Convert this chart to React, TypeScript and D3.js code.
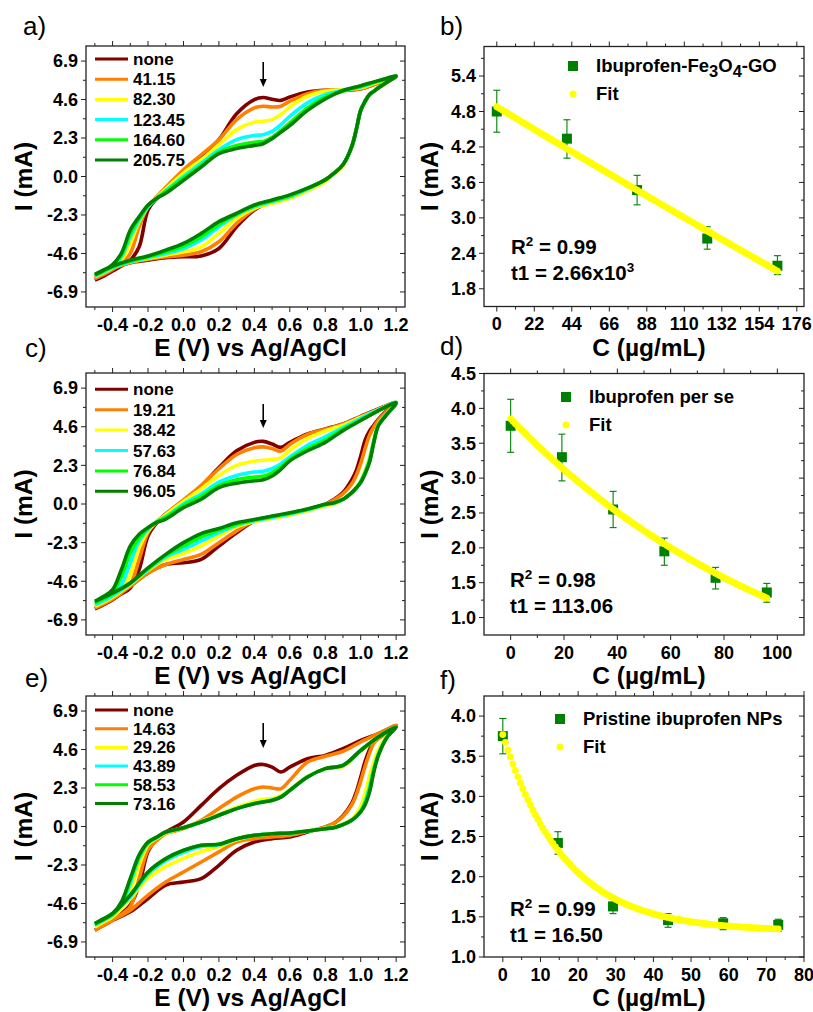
import React from "react";
import * as d3 from "d3";

const FONT = "'Liberation Sans', Arial, Helvetica, sans-serif";

// ---------- CV data (potential grids, V) ----------
const FE = [-0.5, -0.45, -0.4, -0.35, -0.3, -0.25, -0.2, -0.15, -0.1, 0, 0.1, 0.2, 0.3, 0.4, 0.45, 0.5, 0.55, 0.6, 0.7, 0.8, 0.9, 1.0, 1.1, 1.2];
const RE = [1.2, 1.15, 1.1, 1.075, 1.05, 1.025, 1.0, 0.975, 0.95, 0.9, 0.85, 0.8, 0.7, 0.6, 0.5, 0.4, 0.3, 0.2, 0.1, 0, -0.1, -0.2, -0.3, -0.4, -0.5];

const CV_COLORS = ["#800000", "#FF8000", "#FFFF00", "#00FFFF", "#00FF00", "#008000"];

const aLabels = ["none", "41.15", "82.30", "123.45", "164.60", "205.75"];
const aUp = [
  [-6.2, -5.95, -5.65, -5.35, -5.0, -4.2, -2.0, -1.3, -0.8, 0.15, 1.15, 2.2, 3.75, 4.6, 4.72, 4.62, 4.55, 4.75, 5.05, 5.15, 5.15, 5.25, 5.6, 6.0],
  [-6.1, -5.85, -5.55, -5.2, -4.6, -3.0, -1.8, -1.2, -0.65, 0.4, 1.3, 2.2, 3.4, 4.1, 4.2, 4.15, 4.2, 4.5, 4.95, 5.15, 5.15, 5.25, 5.6, 6.0],
  [-6.0, -5.75, -5.45, -5.0, -4.0, -2.7, -1.8, -1.25, -0.75, 0.2, 1.0, 1.9, 2.8, 3.25, 3.3, 3.4, 3.7, 4.15, 4.8, 5.1, 5.2, 5.3, 5.65, 6.0],
  [-5.95, -5.7, -5.4, -4.8, -3.6, -2.6, -1.8, -1.3, -0.85, 0.0, 0.8, 1.6, 2.2, 2.45, 2.5, 2.7, 3.1, 3.6, 4.4, 4.9, 5.15, 5.35, 5.7, 6.0],
  [-5.9, -5.65, -5.3, -4.7, -3.4, -2.5, -1.75, -1.3, -0.9, -0.1, 0.65, 1.45, 1.85, 2.05, 2.1, 2.35, 2.75, 3.2, 4.1, 4.75, 5.1, 5.4, 5.7, 6.0],
  [-5.87, -5.6, -5.27, -4.58, -3.2, -2.4, -1.7, -1.3, -1.0, -0.22, 0.57, 1.37, 1.67, 1.86, 1.96, 2.26, 2.65, 3.05, 3.95, 4.64, 5.14, 5.43, 5.73, 6.0],
];
const aDown = [
  [6.0, 5.65, 5.3, 5.1, 4.9, 4.5, 3.95, 2.8, 1.8, 0.7, 0.2, -0.2, -0.75, -1.2, -1.5, -2.0, -3.0, -4.3, -4.75, -4.8, -4.85, -5.0, -5.15, -5.5, -6.05],
  [6.0, 5.65, 5.3, 5.1, 4.9, 4.5, 3.95, 2.8, 1.8, 0.7, 0.2, -0.2, -0.75, -1.2, -1.55, -1.95, -2.8, -3.9, -4.5, -4.7, -4.8, -4.95, -5.15, -5.5, -6.05],
  [6.0, 5.65, 5.3, 5.1, 4.9, 4.5, 3.95, 2.8, 1.8, 0.65, 0.15, -0.3, -0.85, -1.3, -1.6, -1.9, -2.5, -3.4, -4.2, -4.5, -4.7, -4.9, -5.1, -5.45, -6.0],
  [6.0, 5.65, 5.3, 5.1, 4.9, 4.5, 3.95, 2.8, 1.8, 0.7, 0.2, -0.2, -0.75, -1.2, -1.5, -1.8, -2.3, -3.0, -3.8, -4.3, -4.6, -4.85, -5.1, -5.45, -5.95],
  [6.0, 5.65, 5.3, 5.1, 4.9, 4.5, 3.95, 2.8, 1.8, 0.7, 0.2, -0.2, -0.7, -1.15, -1.45, -1.75, -2.25, -2.85, -3.6, -4.15, -4.5, -4.8, -5.05, -5.4, -5.9],
  [6.0, 5.65, 5.3, 5.1, 4.9, 4.5, 3.95, 2.8, 1.8, 0.7, 0.2, -0.2, -0.7, -1.1, -1.4, -1.7, -2.2, -2.7, -3.4, -4.0, -4.4, -4.75, -5.0, -5.35, -5.85],
];

const cLabels = ["none", "19.21", "38.42", "57.63", "76.84", "96.05"];
const cUp = [
  [-6.25, -6.0, -5.7, -5.35, -5.0, -3.9, -1.9, -1.1, -0.6, 0.18, 1.08, 2.17, 3.17, 3.67, 3.73, 3.57, 3.37, 3.67, 4.17, 4.47, 4.77, 5.22, 5.66, 6.05],
  [-6.2, -5.95, -5.65, -5.3, -4.8, -3.3, -1.7, -1.05, -0.6, 0.25, 1.1, 2.1, 2.95, 3.35, 3.4, 3.3, 3.15, 3.55, 4.15, 4.45, 4.75, 5.2, 5.65, 6.05],
  [-6.1, -5.85, -5.55, -5.1, -4.2, -2.6, -1.6, -1.05, -0.65, 0.15, 0.9, 1.7, 2.3, 2.55, 2.6, 2.65, 2.75, 3.2, 3.9, 4.35, 4.7, 5.15, 5.6, 6.05],
  [-6.0, -5.75, -5.45, -4.8, -3.5, -2.2, -1.5, -1.05, -0.75, 0.0, 0.6, 1.3, 1.7, 1.9, 1.95, 2.1, 2.4, 2.8, 3.5, 4.0, 4.55, 5.1, 5.6, 6.05],
  [-5.9, -5.6, -5.25, -4.3, -2.9, -2.0, -1.45, -1.05, -0.8, -0.1, 0.45, 1.1, 1.45, 1.6, 1.65, 1.85, 2.2, 2.65, 3.3, 3.8, 4.45, 5.0, 5.55, 6.02],
  [-5.8, -5.5, -5.1, -3.9, -2.5, -1.8, -1.4, -1.1, -0.9, -0.22, 0.28, 0.98, 1.24, 1.38, 1.44, 1.67, 2.07, 2.57, 3.17, 3.67, 4.37, 4.97, 5.56, 6.02],
];
const cDown = [
  [6.05, 5.6, 5.05, 4.7, 4.35, 3.8, 2.85, 2.0, 1.45, 0.68, 0.28, -0.02, -0.32, -0.62, -0.76, -1.02, -1.72, -2.5, -3.3, -3.5, -3.6, -4.1, -4.9, -5.7, -6.25],
  [6.05, 5.55, 5.0, 4.6, 4.1, 3.3, 2.4, 1.7, 1.2, 0.6, 0.25, -0.02, -0.32, -0.6, -0.75, -1.0, -1.6, -2.3, -3.0, -3.3, -3.6, -4.1, -4.9, -5.65, -6.2],
  [6.05, 5.4, 4.75, 3.9, 2.8, 2.0, 1.4, 1.0, 0.7, 0.25, 0.0, -0.1, -0.4, -0.65, -0.85, -1.05, -1.35, -1.9, -2.5, -2.95, -3.3, -3.95, -4.8, -5.55, -6.1],
  [6.04, 5.38, 4.7, 3.8, 2.65, 1.9, 1.35, 0.95, 0.7, 0.27, 0.05, -0.05, -0.35, -0.6, -0.8, -1.0, -1.25, -1.7, -2.2, -2.7, -3.15, -3.9, -4.75, -5.45, -6.0],
  [6.03, 5.37, 4.68, 3.75, 2.55, 1.85, 1.3, 0.95, 0.68, 0.28, 0.07, -0.03, -0.32, -0.55, -0.75, -0.95, -1.2, -1.55, -1.95, -2.5, -3.05, -3.85, -4.7, -5.35, -5.9],
  [6.02, 5.36, 4.67, 3.7, 2.5, 1.8, 1.28, 0.95, 0.68, 0.28, 0.08, -0.02, -0.3, -0.52, -0.72, -0.92, -1.12, -1.46, -1.76, -2.3, -3.0, -3.8, -4.7, -5.3, -5.8],
];

const eLabels = ["none", "14.63", "29.26", "43.89", "58.53", "73.16"];
const eUp = [
  [-6.2, -5.9, -5.6, -5.2, -4.7, -3.5, -1.5, -0.73, -0.33, 0.27, 1.26, 2.26, 3.06, 3.65, 3.71, 3.55, 3.26, 3.55, 4.05, 4.25, 4.65, 5.15, 5.55, 6.04],
  [-6.2, -5.9, -5.6, -5.25, -4.8, -3.1, -1.4, -0.83, -0.43, -0.13, 0.37, 1.07, 1.76, 2.26, 2.36, 2.3, 2.26, 2.76, 3.85, 4.2, 4.5, 5.05, 5.55, 6.04],
  [-6.0, -5.7, -5.4, -4.9, -3.8, -2.3, -1.1, -0.7, -0.4, -0.07, 0.3, 0.72, 1.15, 1.5, 1.62, 1.68, 1.85, 2.2, 3.0, 3.45, 3.6, 4.5, 5.35, 5.95],
  [-5.9, -5.6, -5.3, -4.7, -3.4, -1.9, -1.0, -0.66, -0.35, -0.07, 0.27, 0.67, 1.07, 1.38, 1.48, 1.58, 1.78, 2.16, 2.96, 3.46, 3.65, 4.55, 5.35, 5.94],
  [-5.85, -5.55, -5.25, -4.6, -3.2, -1.8, -0.95, -0.64, -0.34, -0.07, 0.27, 0.67, 1.07, 1.37, 1.47, 1.57, 1.77, 2.16, 2.96, 3.46, 3.65, 4.55, 5.35, 5.94],
  [-5.8, -5.5, -5.2, -4.5, -3.1, -1.7, -0.93, -0.63, -0.33, -0.07, 0.27, 0.67, 1.07, 1.36, 1.46, 1.56, 1.76, 2.16, 2.96, 3.46, 3.65, 4.55, 5.35, 5.94],
];
const eDown = [
  [6.04, 5.6, 5.3, 5.1, 4.6, 3.9, 2.95, 2.06, 1.4, 0.65, 0.2, -0.03, -0.33, -0.63, -0.73, -0.93, -1.42, -2.32, -3.12, -3.32, -3.5, -4.3, -5.1, -5.6, -6.2],
  [6.04, 5.6, 5.25, 5.0, 4.4, 3.6, 2.7, 1.9, 1.3, 0.6, 0.2, -0.03, -0.3, -0.53, -0.63, -0.73, -0.93, -1.52, -2.12, -2.72, -3.32, -4.1, -5.0, -5.6, -6.2],
  [6.0, 5.45, 4.6, 3.9, 3.0, 2.0, 1.2, 0.75, 0.45, 0.15, -0.03, -0.1, -0.27, -0.4, -0.45, -0.55, -0.8, -1.2, -1.5, -1.9, -2.4, -3.1, -4.3, -5.3, -6.0],
  [5.96, 5.38, 4.35, 3.5, 2.4, 1.5, 0.95, 0.6, 0.4, 0.12, -0.05, -0.12, -0.27, -0.39, -0.43, -0.53, -0.75, -1.1, -1.2, -1.55, -2.05, -2.85, -4.2, -5.2, -5.85],
  [5.95, 5.36, 4.3, 3.4, 2.2, 1.4, 0.9, 0.6, 0.38, 0.11, -0.06, -0.13, -0.27, -0.39, -0.43, -0.53, -0.73, -1.06, -1.12, -1.45, -1.95, -2.75, -4.1, -5.2, -5.8],
  [5.94, 5.35, 4.25, 3.3, 2.06, 1.3, 0.87, 0.6, 0.37, 0.11, -0.07, -0.13, -0.27, -0.39, -0.43, -0.53, -0.73, -1.06, -1.12, -1.42, -1.92, -2.72, -4.1, -5.2, -5.8],
];

const cvXTicks = [-0.4, -0.2, 0, 0.2, 0.4, 0.6, 0.8, 1.0, 1.2];
const cvXMinor = [-0.5, -0.3, -0.1, 0.1, 0.3, 0.5, 0.7, 0.9, 1.1];
const cvYTicks = [-6.9, -4.6, -2.3, 0, 2.3, 4.6, 6.9];
const cvYMinor = [-5.75, -3.45, -1.15, 1.15, 3.45, 5.75];

// ---------- calibration data ----------
const bConc = [0, 41.15, 82.3, 123.45, 164.6];
const bI = [4.8, 4.34, 3.47, 2.65, 2.19];
const bErrLo = [4.45, 4.01, 3.22, 2.47, 2.04];
const bErrHi = [5.16, 4.66, 3.72, 2.85, 2.36];
const bFit = { y0: -41.45, A: 46.33, t1: 2660 };
const bXTicks = [0, 22, 44, 66, 88, 110, 132, 154, 176];
const bXMinor = [11, 33, 55, 77, 99, 121, 143, 165];
const bYTicks = [1.8, 2.4, 3.0, 3.6, 4.2, 4.8, 5.4];
const bYMinor = [2.1, 2.7, 3.3, 3.9, 4.5, 5.1, 5.7];

const dConc = [0, 19.21, 38.42, 57.63, 76.84, 96.05];
const dI = [3.75, 3.3, 2.55, 1.95, 1.57, 1.36];
const dErrLo = [3.37, 2.96, 2.29, 1.75, 1.41, 1.22];
const dErrHi = [4.13, 3.63, 2.81, 2.14, 1.72, 1.49];
const dFit = { y0: -0.64, A: 4.49, t1: 113.06 };
const dXTicks = [0, 20, 40, 60, 80, 100];
const dXMinor = [10, 30, 50, 70, 90];
const dYTicks = [1.0, 1.5, 2.0, 2.5, 3.0, 3.5, 4.0, 4.5];
const dYMinor = [1.25, 1.75, 2.25, 2.75, 3.25, 3.75, 4.25];

const fConc = [0, 14.63, 29.26, 43.89, 58.53, 73.16];
const fI = [3.75, 2.42, 1.63, 1.46, 1.42, 1.4];
const fErrLo = [3.53, 2.28, 1.54, 1.37, 1.34, 1.32];
const fErrHi = [3.97, 2.56, 1.72, 1.54, 1.49, 1.47];
const fFit = { y0: 1.321, A: 2.449, t1: 16.5 };
const fXTicks = [0, 10, 20, 30, 40, 50, 60, 70, 80];
const fXMinor = [5, 15, 25, 35, 45, 55, 65, 75];
const fYTicks = [1.0, 1.5, 2.0, 2.5, 3.0, 3.5, 4.0];
const fYMinor = [1.25, 1.75, 2.25, 2.75, 3.25, 3.75];

type Box = { l: number; r: number; t: number; b: number };

const TICK_FS = 18;
const AXIS_FS = 24.5;

function Frame({ box, xs, ys, xMajor, xMinor, yMajor, yMinor, xFmt, yFmt, xLabel, yLabelX }: any) {
  const els: any[] = [];
  const stroke = "#222";
  xMajor.forEach((v: number, i: number) => {
    const p = xs(v);
    els.push(<line key={"xb" + i} x1={p} x2={p} y1={box.b} y2={box.b + 5} stroke={stroke} strokeWidth={1} />);
    els.push(<line key={"xt" + i} x1={p} x2={p} y1={box.t} y2={box.t - 5} stroke={stroke} strokeWidth={1} />);
    els.push(
      <text key={"xl" + i} x={p} y={box.b + 23.5} textAnchor="middle" fontSize={TICK_FS} fontWeight="bold" fontFamily={FONT}>
        {xFmt(v)}
      </text>
    );
  });
  xMinor.forEach((v: number, i: number) => {
    const p = xs(v);
    els.push(<line key={"xbm" + i} x1={p} x2={p} y1={box.b} y2={box.b + 3} stroke={stroke} strokeWidth={1} />);
    els.push(<line key={"xtm" + i} x1={p} x2={p} y1={box.t} y2={box.t - 3} stroke={stroke} strokeWidth={1} />);
  });
  yMajor.forEach((v: number, i: number) => {
    const p = ys(v);
    els.push(<line key={"yl" + i} x1={box.l} x2={box.l - 5} y1={p} y2={p} stroke={stroke} strokeWidth={1} />);
    els.push(<line key={"yr" + i} x1={box.r} x2={box.r - 5} y1={p} y2={p} stroke={stroke} strokeWidth={1} />);
    els.push(
      <text key={"ylab" + i} x={box.l - 8} y={p + 6.3} textAnchor="end" fontSize={TICK_FS} fontWeight="bold" fontFamily={FONT}>
        {yFmt(v)}
      </text>
    );
  });
  yMinor.forEach((v: number, i: number) => {
    const p = ys(v);
    els.push(<line key={"ylm" + i} x1={box.l} x2={box.l - 3} y1={p} y2={p} stroke={stroke} strokeWidth={1} />);
    els.push(<line key={"yrm" + i} x1={box.r} x2={box.r - 3} y1={p} y2={p} stroke={stroke} strokeWidth={1} />);
  });
  const cx = (box.l + box.r) / 2 + 5;
  const cy = (box.t + box.b) / 2;
  return (
    <g>
      <rect x={box.l} y={box.t} width={box.r - box.l} height={box.b - box.t} fill="none" stroke={stroke} strokeWidth={1.3} />
      {els}
      <text x={cx} y={box.b + 49} textAnchor="middle" fontSize={AXIS_FS} fontWeight="bold" fontFamily={FONT}>
        {xLabel}
      </text>
      <text
        transform={`translate(${yLabelX},${cy}) rotate(-90)`}
        textAnchor="middle"
        fontSize={AXIS_FS}
        fontWeight="bold"
        fontFamily={FONT}
      >
        I (mA)
      </text>
    </g>
  );
}

function CVPanel({ box, up, down, labels, legTop, legStep, arrow, yLabelX }: any) {
  const xs = d3.scaleLinear().domain([-0.55, 1.25]).range([box.l, box.r]);
  const ys = d3.scaleLinear().domain([-7.8, 7.8]).range([box.b, box.t]);
  const line = d3
    .line<[number, number]>()
    .x((d) => xs(d[0]))
    .y((d) => ys(d[1]))
    .curve(d3.curveCatmullRom.alpha(0.5));
  const paths = up.map((u: number[], i: number) => {
    const pts: [number, number][] = FE.map((e, j) => [e, u[j]] as [number, number]).concat(
      RE.slice(1).map((e, j) => [e, down[i][j + 1]] as [number, number])
    );
    return <path key={i} d={line(pts) || ""} fill="none" stroke={CV_COLORS[i]} strokeWidth={3.6} strokeLinejoin="round" />;
  });
  const ax = xs(0.45);
  return (
    <g>
      <Frame
        box={box}
        xs={xs}
        ys={ys}
        xMajor={cvXTicks}
        xMinor={cvXMinor}
        yMajor={cvYTicks}
        yMinor={cvYMinor}
        xFmt={(v: number) => v.toFixed(1)}
        yFmt={(v: number) => v.toFixed(1)}
        xLabel="E (V) vs Ag/AgCl"
        yLabelX={yLabelX}
      />
      {paths}
      {labels.map((lab: string, i: number) => {
        const yy = legTop + i * legStep;
        return (
          <g key={"lg" + i}>
            <line x1={box.l + 9} x2={box.l + 42} y1={yy} y2={yy} stroke={CV_COLORS[i]} strokeWidth={3} />
            <text x={box.l + 47} y={yy + 6} fontSize={17} fontWeight="bold" fontFamily={FONT}>
              {lab}
            </text>
          </g>
        );
      })}
      <line x1={ax} x2={ax} y1={arrow[0]} y2={arrow[1] - 6} stroke="#000" strokeWidth={1.6} />
      <polygon points={`${ax - 3.5},${arrow[1] - 8} ${ax + 3.5},${arrow[1] - 8} ${ax},${arrow[1]}`} fill="#000" />
    </g>
  );
}

function FitPanel({ box, xDom, yDom, conc, vals, lo, hi, fit, xMajor, xMinor, yMajor, yMinor, legend, legPos, r2, t1, t1Sup, statPos, yLabelX }: any) {
  const xs = d3.scaleLinear().domain(xDom).range([box.l, box.r]);
  const ys = d3.scaleLinear().domain(yDom).range([box.b, box.t]);
  const xmax = conc[conc.length - 1];
  const fitX = d3.range(0, 111).map((k) => (k / 110) * xmax);
  const green = "#008000";
  return (
    <g>
      <Frame
        box={box}
        xs={xs}
        ys={ys}
        xMajor={xMajor}
        xMinor={xMinor}
        yMajor={yMajor}
        yMinor={yMinor}
        xFmt={(v: number) => String(v)}
        yFmt={(v: number) => v.toFixed(1)}
        xLabel="C (µg/mL)"
        yLabelX={yLabelX}
      />
      {conc.map((c: number, i: number) => (
        <g key={"eb" + i}>
          <line x1={xs(c)} x2={xs(c)} y1={ys(lo[i])} y2={ys(hi[i])} stroke={green} strokeWidth={1.1} />
          <line x1={xs(c) - 3.5} x2={xs(c) + 3.5} y1={ys(lo[i])} y2={ys(lo[i])} stroke={green} strokeWidth={1.1} />
          <line x1={xs(c) - 3.5} x2={xs(c) + 3.5} y1={ys(hi[i])} y2={ys(hi[i])} stroke={green} strokeWidth={1.1} />
        </g>
      ))}
      {conc.map((c: number, i: number) => (
        <rect key={"sq" + i} x={xs(c) - 5} y={ys(vals[i]) - 5} width={10} height={10} fill={green} />
      ))}
      {fitX.map((x: number, k: number) => (
        <circle key={"ft" + k} cx={xs(x)} cy={ys(fit.y0 + fit.A * Math.exp(-x / fit.t1))} r={3.4} fill="#FFFF00" />
      ))}
      <rect x={legPos[0] - 5} y={legPos[1] - 5} width={10} height={10} fill={green} />
      <text x={legPos[0] + 23} y={legPos[1] + 6} fontSize={18.5} fontWeight="bold" fontFamily={FONT}>
        {legend}
      </text>
      <circle cx={legPos[0]} cy={legPos[1] + 28} r={3.5} fill="#FFFF00" />
      <text x={legPos[0] + 23} y={legPos[1] + 34} fontSize={18.5} fontWeight="bold" fontFamily={FONT}>
        Fit
      </text>
      <text x={statPos[0]} y={statPos[1]} fontSize={20.5} fontWeight="bold" fontFamily={FONT}>
        R<tspan dy={-8} fontSize={13.5}>2</tspan>
        <tspan dy={8} fontSize={20.5}>{" = " + r2}</tspan>
      </text>
      <text x={statPos[0]} y={statPos[1] + 26} fontSize={20.5} fontWeight="bold" fontFamily={FONT}>
        {"t1 = " + t1}
        {t1Sup ? <tspan dy={-8} fontSize={13.5}>{t1Sup}</tspan> : null}
      </text>
    </g>
  );
}

const boxA: Box = { l: 86, r: 405, t: 46, b: 307 };
const boxB: Box = { l: 484, r: 804, t: 46.5, b: 306.5 };
const boxC: Box = { l: 86, r: 405, t: 373, b: 635 };
const boxD: Box = { l: 484, r: 804, t: 373.5, b: 635 };
const boxE: Box = { l: 86, r: 405, t: 696, b: 957 };
const boxF: Box = { l: 484, r: 804, t: 696, b: 957 };

export default function App() {
  const legendB = (
    <>
      Ibuprofen-Fe<tspan dy={5} fontSize={16.5}>3</tspan>
      <tspan dy={-5}>O</tspan>
      <tspan dy={5} fontSize={16.5}>4</tspan>
      <tspan dy={-5}>-GO</tspan>
    </>
  );
  const panelLabel = (t: string, x: number, y: number) => (
    <text x={x} y={y} fontSize={26} fontFamily={FONT}>
      {t}
    </text>
  );
  return (
    <svg width={813} height={1012} style={{ position: "absolute", left: 0, top: 0, background: "#fff" }}>
      <rect x={0} y={0} width={813} height={1012} fill="#fff" />
      {panelLabel("a)", 23, 35)}
      {panelLabel("b)", 440, 35)}
      {panelLabel("c)", 25, 357)}
      {panelLabel("d)", 440, 355)}
      {panelLabel("e)", 25, 687)}
      {panelLabel("f)", 440, 689)}

      <CVPanel box={boxA} up={aUp} down={aDown} labels={aLabels} legTop={59} legStep={20.2} arrow={[62, 87]} yLabelX={32} />
      <CVPanel box={boxC} up={cUp} down={cDown} labels={cLabels} legTop={389.3} legStep={20.4} arrow={[404, 428]} yLabelX={32} />
      <CVPanel box={boxE} up={eUp} down={eDown} labels={eLabels} legTop={710} legStep={18.7} arrow={[723, 748]} yLabelX={32} />

      <FitPanel
        box={boxB}
        xDom={[-7.5, 180.2]}
        yDom={[1.5, 5.9]}
        conc={bConc}
        vals={bI}
        lo={bErrLo}
        hi={bErrHi}
        fit={bFit}
        xMajor={bXTicks}
        xMinor={bXMinor}
        yMajor={bYTicks}
        yMinor={bYMinor}
        legend={legendB}
        legPos={[573, 66]}
        r2="0.99"
        t1="2.66x10"
        t1Sup="3"
        statPos={[511, 254]}
        yLabelX={438}
      />
      <FitPanel
        box={boxD}
        xDom={[-10, 110]}
        yDom={[0.75, 4.5]}
        conc={dConc}
        vals={dI}
        lo={dErrLo}
        hi={dErrHi}
        fit={dFit}
        xMajor={dXTicks}
        xMinor={dXMinor}
        yMajor={dYTicks}
        yMinor={dYMinor}
        legend="Ibuprofen per se"
        legPos={[566, 397]}
        r2="0.98"
        t1="113.06"
        t1Sup=""
        statPos={[510, 587]}
        yLabelX={438}
      />
      <FitPanel
        box={boxF}
        xDom={[-5, 80]}
        yDom={[1.0, 4.25]}
        conc={fConc}
        vals={fI}
        lo={fErrLo}
        hi={fErrHi}
        fit={fFit}
        xMajor={fXTicks}
        xMinor={fXMinor}
        yMajor={fYTicks}
        yMinor={fYMinor}
        legend="Pristine ibuprofen NPs"
        legPos={[560, 719]}
        r2="0.99"
        t1="16.50"
        t1Sup=""
        statPos={[510, 916]}
        yLabelX={438}
      />
    </svg>
  );
}
